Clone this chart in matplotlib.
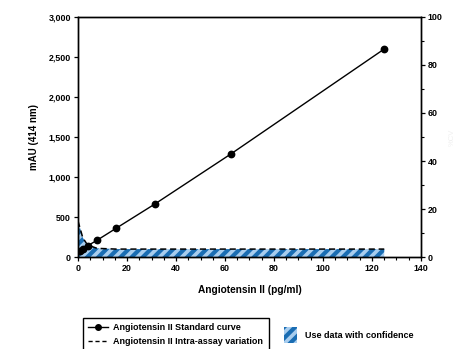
import matplotlib
matplotlib.use("Agg")
import matplotlib.pyplot as plt
from matplotlib.ticker import MultipleLocator, FuncFormatter
from matplotlib.lines import Line2D
from matplotlib.patches import Patch

plt.rcParams['font.family'] = ['Liberation Sans', 'DejaVu Sans']
plt.rcParams['font.weight'] = 'bold'
plt.rcParams['hatch.linewidth'] = 3.0

# standard curve (pg/ml vs mAU)
conc = [0.98, 1.95, 3.9, 7.8, 15.6, 31.25, 62.5, 125]
mau = [75, 100, 140, 210, 360, 660, 1290, 2600]

# intra-assay variation (% CV, right axis)
cv_conc = [0, 0.98, 1.95, 3.9, 7.8, 15.6, 31.25, 62.5, 125]
cv_val = [15.0, 11.5, 8.0, 5.0, 3.6, 3.3, 3.3, 3.3, 3.3]

fig = plt.figure(figsize=(4.57, 3.49), dpi=100)
ax = fig.add_axes([0.1707, 0.2636, 0.7505, 0.6877])
ax2 = ax.twinx()

ax2.fill_between(cv_conc, 0, cv_val, facecolor='#a8cdee', edgecolor='#1a6db3',
                 hatch='///', linewidth=0, zorder=1)
ax2.plot(cv_conc, cv_val, color='black', linestyle=(0, (4, 2.5)), linewidth=1.1, zorder=2)

ax.plot(conc, mau, color='black', linewidth=1.0, marker='o', markersize=4.6, zorder=5)
ax.set_zorder(ax2.get_zorder() + 1)
ax.patch.set_visible(False)

ax.set_xlim(0, 140)
ax.set_ylim(0, 3000)
ax2.set_ylim(0, 100)

ax.xaxis.set_major_locator(MultipleLocator(20))
ax.xaxis.set_minor_locator(MultipleLocator(5))
ax.yaxis.set_major_locator(MultipleLocator(500))
ax.yaxis.set_major_formatter(FuncFormatter(lambda v, p: f"{int(v):,}"))
ax2.yaxis.set_major_locator(MultipleLocator(20))
ax2.yaxis.set_minor_locator(MultipleLocator(10))

for a in (ax, ax2):
    a.tick_params(axis='both', which='major', labelsize=6.4, length=3, width=0.9, pad=2)
    a.tick_params(axis='both', which='minor', length=2, width=0.8)
    for s in a.spines.values():
        s.set_linewidth(1.0)

ax.set_xlabel('Angiotensin II (pg/ml)', fontsize=7.3, fontweight='bold', labelpad=9)
ax.set_ylabel('mAU (414 nm)', fontsize=7, fontweight='bold', labelpad=7)
ax2.set_ylabel('%CV', fontsize=5.5, color='#f0f0f0', labelpad=4)

handles = [
    Line2D([], [], color='black', marker='o', markersize=4, linewidth=1.0),
    Line2D([], [], color='black', linestyle=(0, (3, 2)), linewidth=1.0),
]
labels = ['Angiotensin II Standard curve', 'Angiotensin II Intra-assay variation']
fig.legend(handles, labels, loc='upper left', bbox_to_anchor=(0.171, 0.102),
           fontsize=6.5, frameon=True, fancybox=False, edgecolor='black',
           framealpha=1, handlelength=2.2, borderpad=0.6, labelspacing=0.5,
           handletextpad=0.6)
fig.legend([Patch(facecolor='#a8cdee', edgecolor='#1a6db3', hatch='///', linewidth=0)],
           ['Use data with confidence'], loc='upper left',
           bbox_to_anchor=(0.603, 0.085), fontsize=6.5, frameon=False,
           handlelength=1.5, handleheight=2.2, handletextpad=0.9)

fig.savefig('out.png', dpi=100)
